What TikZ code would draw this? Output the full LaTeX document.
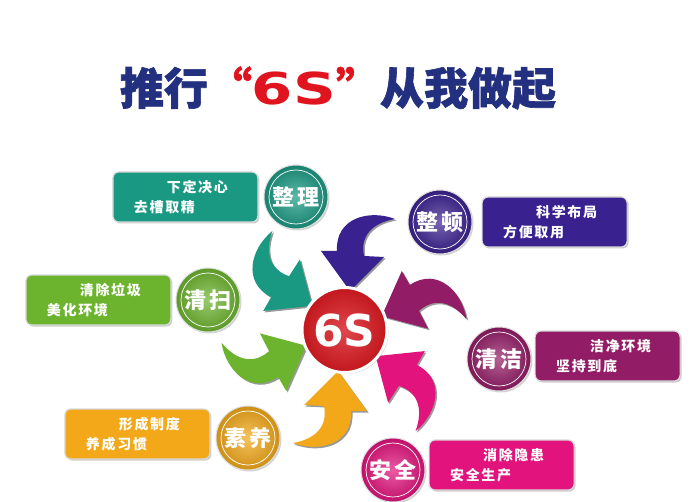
\documentclass[tikz,border=0pt]{standalone}
\usepackage{fontspec}
\usepackage{graphicx}
\usetikzlibrary{positioning,shadows}
\newfontfamily\cjk{Noto Sans CJK SC}
\newfontfamily\cjktitle{Noto Sans CJK SC}[FakeBold=1.4]
\newfontfamily\cjkbox{Noto Sans CJK SC}[LetterSpace=12]
\newfontfamily\latinb{DejaVu Sans}
\definecolor{tnavy}{HTML}{23307F}
\definecolor{tred}{HTML}{E0141E}
\definecolor{cteal}{HTML}{1A9982}
\definecolor{cpurple}{HTML}{3A2190}
\definecolor{cgreen}{HTML}{6CB42E}
\definecolor{corange}{HTML}{F2A818}
\definecolor{cpink}{HTML}{E2137C}
\definecolor{cviolet}{HTML}{931C66}
\definecolor{cred}{HTML}{D71920}
% one arrow of the wheel, tip towards the centre
\newcommand{\wheelarrow}{(51,-112) .. controls (25,-122) and (-9,-113) .. (-7,-80)
  -- (-23,-80) -- (6,-40) -- (40,-74) -- (20,-75)
  .. controls (16,-95) and (28,-108) .. (51,-112) -- cycle}

\begin{document}
\begin{tikzpicture}[x=1pt, y=-1pt,
	badge/.style ={circle, minimum size=64pt, inner sep=0pt,
		inner color=#1!70!white, outer color=#1!85!black,
		draw=white!75!gray, line width=1pt, text=white,
		font=\cjkbox\bfseries\fontsize{22}{22}\selectfont,
		drop shadow={shadow xshift=1.5pt, shadow yshift=-1.5pt, opacity=0.35},
		path picture={\draw[white, line width=0.7pt]
			(path picture bounding box.center) circle[radius=27pt];}},
	infobox/.style ={rounded corners=6pt, minimum width=145pt, minimum height=50pt,
		text width=103pt, inner xsep=21pt, align=left, fill=#1,
		draw=gray!30, line width=1.2pt, text=white,
		font=\cjkbox\bfseries\fontsize{14}{20}\selectfont,
		drop shadow={shadow xshift=1.5pt, shadow yshift=-1.5pt, opacity=0.4}},
	hub/.style ={circle, minimum size=85pt, inner sep=0pt,
		inner color=cred!80!white, outer color=cred!90!black,
		draw=white, line width=3pt, text=white,
		font=\latinb\bfseries\fontsize{44}{44}\selectfont,
		drop shadow={shadow xshift=1.5pt, shadow yshift=-1.5pt, opacity=0.4}}]
	\useasboundingbox (0,0) rectangle (700,502);
	\fill[white] (0,0) rectangle (700,502);

	% title
	\node[font=\cjktitle\bfseries\fontsize{44}{44}\selectfont] (title) at (338,88)
		{\textcolor{tnavy}{推行}\textcolor{tred}{“\scalebox{1.35}[1]{\latinb\bfseries 6S}”}\textcolor{tnavy}{从我做起}};

	% arrows
	\foreach \ang/\col in {0/cpurple, 60/cteal, 120/cgreen, 180/corange, 240/cpink, 300/cviolet}{
		\fill[black!40, shift={(345.5,332.5)}, rotate=\ang] \wheelarrow;
		\fill[\col, shift={(344,331)}, rotate=\ang] \wheelarrow;
	}

	\node[hub] (six) at (344.5,330) {6S};

	% badges
	\node[badge=cteal] (zl) at (296,197) {整理};
	\node[badge=cpurple] (zd) at (440,222) {整顿};
	\node[badge=cgreen] (qs) at (208,300) {清扫};
	\node[badge=cviolet] (qj) at (499,359) {清洁};
	\node[badge=corange] (sy) at (248,438) {素养};
	\node[badge=cpink] (aq) at (393,470) {安全};

	% boxes
	\node[infobox=cteal, left=5pt of zl] (zlbox) {\hspace*{33pt}下定决心\\去槽取精};
	\node[infobox=cpurple, right=9pt of zd] (zdbox) {\hspace*{33pt}科学布局\\方便取用};
	\node[infobox=cgreen, left=4pt of qs] (qsbox) {\hspace*{33pt}清除垃圾\\美化环境};
	\node[infobox=cviolet, right=3pt of qj, yshift=3pt] (qjbox) {\hspace*{34pt}洁净环境\\坚持到底};
	\node[infobox=corange, left=5pt of sy, yshift=4pt] (sybox) {\hspace*{33pt}形成制度\\养成习惯};
	\node[infobox=cpink, right=3pt of aq, yshift=5pt] (aqbox) {\hspace*{33pt}消除隐患\\安全生产};
\end{tikzpicture}
\end{document}
